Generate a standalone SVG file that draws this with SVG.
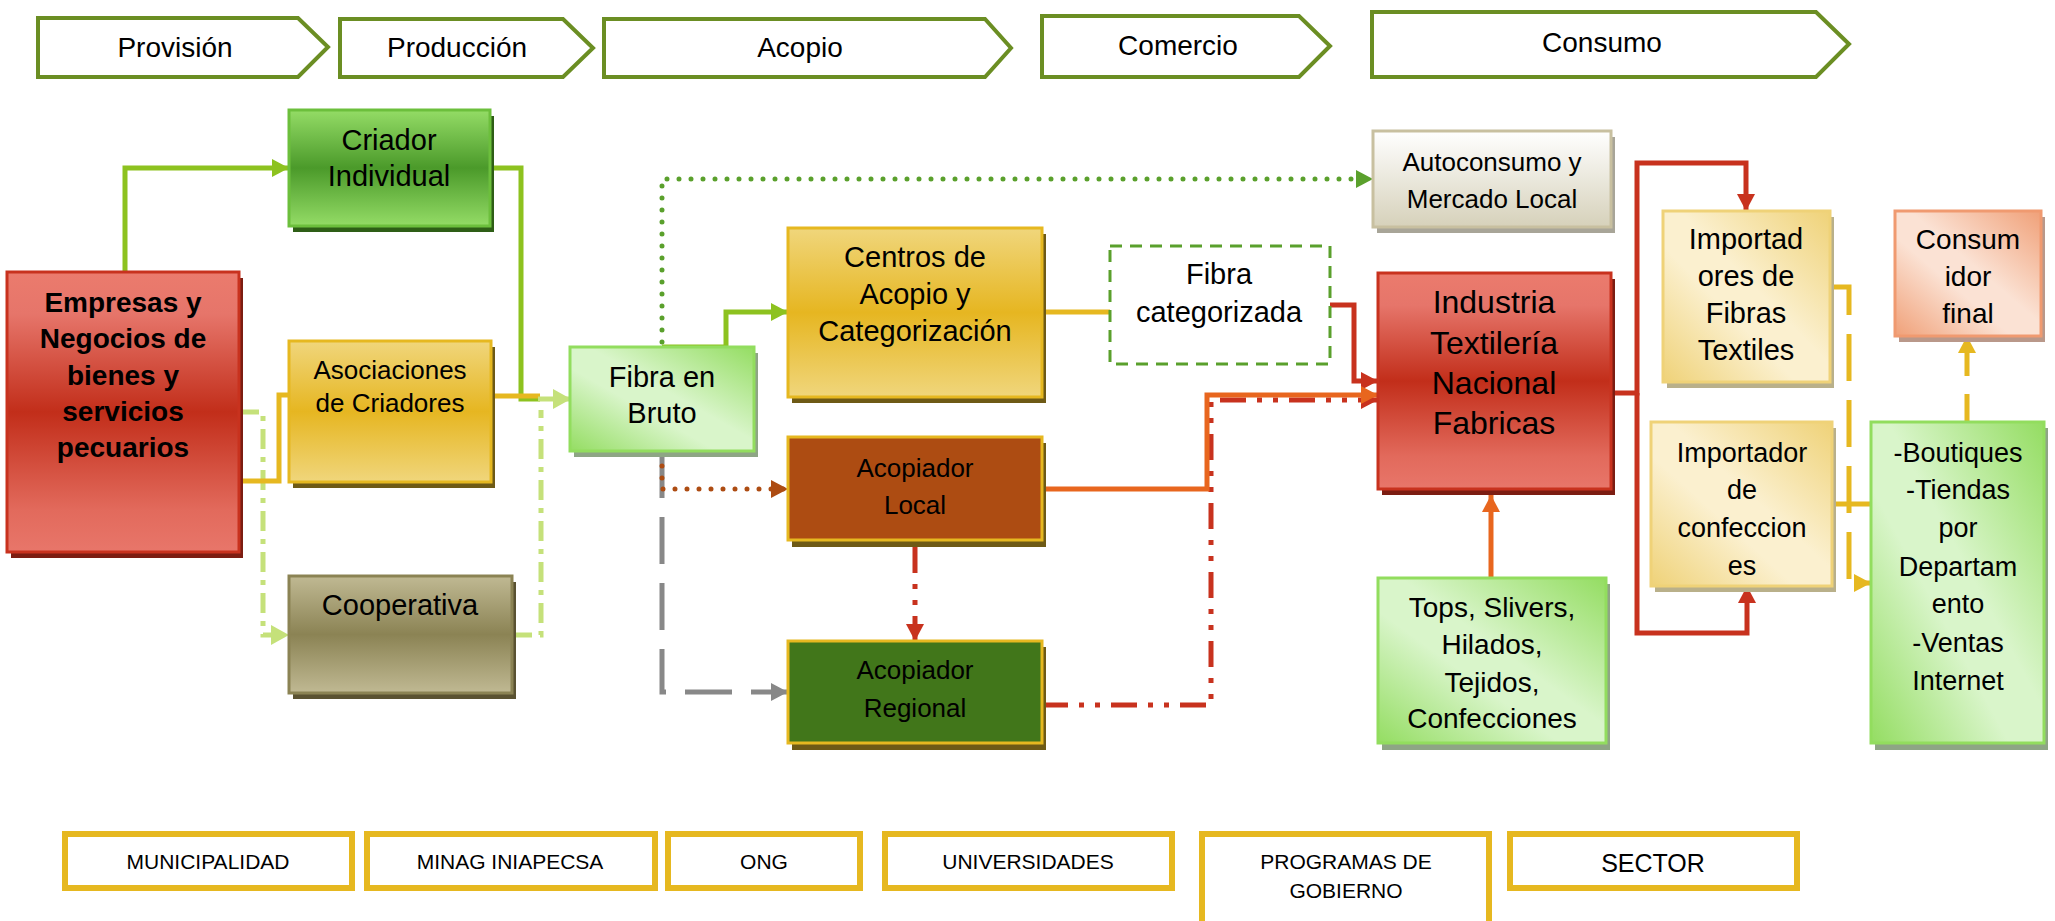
<svg xmlns="http://www.w3.org/2000/svg" width="2055" height="921" viewBox="0 0 2055 921">
<style>
text{font-family:"Liberation Sans",Arial,sans-serif;fill:#000;text-anchor:middle}
.chev{fill:#fff;stroke:#6b8e23;stroke-width:4;stroke-linejoin:miter}
.ct{font-size:28px}
.bx{fill:#fff;stroke:#e6b820;stroke-width:6}
.bt{font-size:21px}
.ln{fill:none;stroke-width:5}
.g{stroke:#8dc21f}
.lg{stroke:#c5e17a}
.dg{stroke:#5aa02c}
.y{stroke:#e6b820}
.r{stroke:#c8321e}
.o{stroke:#e8661e}
.br{stroke:#ad4c12}
.gr{stroke:#888888}
.dot{stroke-dasharray:0 12;stroke-linecap:round}
.dashdot{stroke-dasharray:20 8 5 8}
.dd2{stroke-dasharray:26 11 5 11 5 11}
.dash{stroke-dasharray:47 19}
.dashS{stroke-dasharray:28 18}
</style>
<defs>
<linearGradient id="gRed" x1="0" y1="0" x2="0" y2="1"><stop offset="0" stop-color="#eb7b6d"/><stop offset="0.15" stop-color="#e6756a"/><stop offset="0.5" stop-color="#c22e1a"/><stop offset="0.85" stop-color="#e26a5c"/><stop offset="1" stop-color="#e8766a"/></linearGradient>
<linearGradient id="gGreen" x1="0" y1="0" x2="0" y2="1"><stop offset="0" stop-color="#94dc66"/><stop offset="0.5" stop-color="#4b9a2a"/><stop offset="1" stop-color="#94dc66"/></linearGradient>
<linearGradient id="gYel" x1="0" y1="0" x2="0" y2="1"><stop offset="0" stop-color="#f0d67c"/><stop offset="0.5" stop-color="#e6b621"/><stop offset="1" stop-color="#f0d67c"/></linearGradient>
<linearGradient id="gOl" x1="0" y1="0" x2="0" y2="1"><stop offset="0" stop-color="#c0b993"/><stop offset="0.5" stop-color="#8b8354"/><stop offset="1" stop-color="#c0b993"/></linearGradient>
<linearGradient id="gAuto" x1="0" y1="0" x2="0" y2="1"><stop offset="0" stop-color="#ffffff"/><stop offset="1" stop-color="#d6d1ba"/></linearGradient>
<linearGradient id="gLG" x1="1" y1="0" x2="0" y2="1"><stop offset="0" stop-color="#94dd62"/><stop offset="0.45" stop-color="#d9f5ca"/><stop offset="0.6" stop-color="#d9f5ca"/><stop offset="1" stop-color="#94dd62"/></linearGradient>
<linearGradient id="gGold" x1="1" y1="0" x2="0" y2="1"><stop offset="0" stop-color="#efd278"/><stop offset="0.45" stop-color="#fbf0cf"/><stop offset="0.6" stop-color="#fbf0cf"/><stop offset="1" stop-color="#efd278"/></linearGradient>
<linearGradient id="gPeach" x1="1" y1="0" x2="0" y2="1"><stop offset="0" stop-color="#f0a078"/><stop offset="0.45" stop-color="#fbe2d4"/><stop offset="0.6" stop-color="#fbe2d4"/><stop offset="1" stop-color="#f0a078"/></linearGradient>
<marker id="mG" markerUnits="userSpaceOnUse" markerWidth="18" markerHeight="18" refX="17" refY="9" orient="auto"><path d="M0,0 L17,9 L0,18 Z" fill="#8dc21f"/></marker>
<marker id="mLG" markerUnits="userSpaceOnUse" markerWidth="19" markerHeight="20" refX="18" refY="10" orient="auto"><path d="M0,0 L18,10 L0,20 Z" fill="#c5e17a"/></marker>
<marker id="mDG" markerUnits="userSpaceOnUse" markerWidth="18" markerHeight="18" refX="17" refY="9" orient="auto"><path d="M0,0 L17,9 L0,18 Z" fill="#5aa02c"/></marker>
<marker id="mR" markerUnits="userSpaceOnUse" markerWidth="18" markerHeight="18" refX="17" refY="9" orient="auto"><path d="M0,0 L17,9 L0,18 Z" fill="#c8321e"/></marker>
<marker id="mO" markerUnits="userSpaceOnUse" markerWidth="18" markerHeight="18" refX="17" refY="9" orient="auto"><path d="M0,0 L17,9 L0,18 Z" fill="#e8661e"/></marker>
<marker id="mBR" markerUnits="userSpaceOnUse" markerWidth="18" markerHeight="18" refX="17" refY="9" orient="auto"><path d="M0,0 L17,9 L0,18 Z" fill="#ad4c12"/></marker>
<marker id="mGR" markerUnits="userSpaceOnUse" markerWidth="18" markerHeight="18" refX="17" refY="9" orient="auto"><path d="M0,0 L17,9 L0,18 Z" fill="#888888"/></marker>
<marker id="mY" markerUnits="userSpaceOnUse" markerWidth="18" markerHeight="18" refX="17" refY="9" orient="auto"><path d="M0,0 L17,9 L0,18 Z" fill="#e6b820"/></marker>
</defs>
<rect width="2055" height="921" fill="#fff"/>

<g id="stages">
<g id="st-provision"><path class="chev" d="M38,18 L298,18 L328,47 L298,77 L38,77 Z"/><text class="ct" x="175" y="57">Provisión</text></g>
<g id="st-produccion"><path class="chev" d="M340,19 L563,19 L593,48 L563,77 L340,77 Z"/><text class="ct" x="457" y="57">Producción</text></g>
<g id="st-acopio"><path class="chev" d="M604,19 L985,19 L1011,48 L985,77 L604,77 Z"/><text class="ct" x="800" y="57">Acopio</text></g>
<g id="st-comercio"><path class="chev" d="M1042,16 L1299,16 L1330,46 L1299,77 L1042,77 Z"/><text class="ct" x="1178" y="55">Comercio</text></g>
<g id="st-consumo"><path class="chev" d="M1372,12 L1816,12 L1849,44 L1816,77 L1372,77 Z"/><text class="ct" x="1602" y="52">Consumo</text></g>
</g>

<g id="connectors">
<path class="ln g" d="M125,272 V168 H289" marker-end="url(#mG)"/>
<path class="ln g" d="M471,168 H521 V399 H540"/>
<path class="ln y" d="M491,396 H540"/>
<path class="ln lg dashdot" d="M512,635 H541 V410"/>
<path class="ln lg" d="M538,399 H571" marker-end="url(#mLG)"/>
<path class="ln lg dashdot" d="M239,412 H263 V635 H289" marker-end="url(#mLG)"/>
<path class="ln y" d="M232,481 H279 V395 H289"/>
<path class="ln g" d="M662,347 H726 V312 H788" marker-end="url(#mG)"/>
<path class="ln dg dot" d="M662,342 V179 H1373" marker-end="url(#mDG)"/>
<path class="ln y" d="M1042,312 H1110"/>
<path class="ln r" d="M1330,305 H1354 V381 H1378" marker-end="url(#mR)"/>
<path class="ln r dd2" d="M1042,705 H1211 V400 H1378" marker-end="url(#mR)"/>
<path class="ln o" d="M1042,489 H1207 V395 H1378" marker-end="url(#mO)"/>
<path class="ln r dd2" d="M915,547 V641" marker-end="url(#mR)"/>
<path class="ln gr dash" d="M662,451 V692 H788" marker-end="url(#mGR)"/>
<path class="ln br dot" d="M662,454 V489 H788" marker-end="url(#mBR)"/>
<path class="ln o" d="M1491,578 V495" marker-end="url(#mO)"/>
<path class="ln r" d="M1611,393 H1637 V163 H1746 V211" marker-end="url(#mR)"/>
<path class="ln r" d="M1637,393 V633 H1747 V586" marker-end="url(#mR)"/>
<path class="ln y dash" d="M1830,287 H1849 V583 H1871" marker-end="url(#mY)"/>
<path class="ln y" d="M1832,504 H1871"/>
<path class="ln y dashS" d="M1967,422 V336" marker-end="url(#mY)"/>
</g>

<g id="n-criador"><rect x="293" y="116" width="201" height="116" fill="#2e5e16"/><rect x="289" y="110" width="201" height="116" fill="url(#gGreen)" stroke="#6cbf3c" stroke-width="3"/>
<text font-size="29" x="389" y="150">Criador</text><text font-size="29" x="389" y="186">Individual</text></g>

<g id="n-empresas"><rect x="11" y="278" width="232" height="280" fill="#7c1d12"/><rect x="7" y="272" width="232" height="280" fill="url(#gRed)" stroke="#c8321e" stroke-width="3"/>
<g font-weight="bold" font-size="28"><text x="123" y="312">Empresas y</text><text x="123" y="348">Negocios de</text><text x="123" y="385">bienes y</text><text x="123" y="421">servicios</text><text x="123" y="457">pecuarios</text></g></g>

<g id="n-asociaciones"><rect x="293" y="347" width="202" height="141" fill="#6e5a16"/><rect x="289" y="341" width="202" height="141" fill="url(#gYel)" stroke="#e6b820" stroke-width="3"/>
<text font-size="26" x="390" y="379">Asociaciones</text><text font-size="26" x="390" y="412">de Criadores</text></g>

<g id="n-cooperativa"><rect x="293" y="582" width="223" height="117" fill="#5a5232"/><rect x="289" y="576" width="223" height="117" fill="url(#gOl)" stroke="#8b8354" stroke-width="3"/>
<text font-size="29" x="400" y="615">Cooperativa</text></g>

<g id="n-fibra-bruto"><rect x="574" y="353" width="184" height="104" fill="#8ea585"/><rect x="570" y="347" width="184" height="104" fill="url(#gLG)" stroke="#92dd5e" stroke-width="3"/>
<text font-size="29" x="662" y="387">Fibra en</text><text font-size="29" x="662" y="423">Bruto</text></g>

<g id="n-centros"><rect x="792" y="234" width="254" height="169" fill="#6e5a16"/><rect x="788" y="228" width="254" height="169" fill="url(#gYel)" stroke="#e6b820" stroke-width="3"/>
<text font-size="29" x="915" y="267">Centros de</text><text font-size="29" x="915" y="304">Acopio y</text><text font-size="29" x="915" y="341">Categorización</text></g>

<g id="n-fibra-cat"><rect x="1110" y="246" width="220" height="118" fill="#fff" stroke="#5aa02c" stroke-width="3" stroke-dasharray="12 8"/>
<text font-size="29" x="1219" y="284">Fibra</text><text font-size="29" x="1219" y="322">categorizada</text></g>

<g id="n-acop-local"><rect x="792" y="443" width="254" height="104" fill="#6e5a16"/><rect x="788" y="437" width="254" height="103" fill="#ad4c12" stroke="#e6b820" stroke-width="3"/>
<text font-size="26" x="915" y="477">Acopiador</text><text font-size="26" x="915" y="514">Local</text></g>

<g id="n-acop-regional"><rect x="792" y="647" width="254" height="103" fill="#6e5a16"/><rect x="788" y="641" width="254" height="102" fill="#41761a" stroke="#e6b820" stroke-width="3"/>
<text font-size="26" x="915" y="679">Acopiador</text><text font-size="26" x="915" y="717">Regional</text></g>

<g id="n-autoconsumo"><rect x="1377" y="137" width="238" height="96" fill="#a8a598"/><rect x="1373" y="131" width="238" height="96" fill="url(#gAuto)" stroke="#c8c0a0" stroke-width="3"/>
<text font-size="26" x="1492" y="171">Autoconsumo y</text><text font-size="26" x="1492" y="208">Mercado Local</text></g>

<g id="n-industria"><rect x="1382" y="279" width="233" height="216" fill="#7c1d12"/><rect x="1378" y="273" width="233" height="216" fill="url(#gRed)" stroke="#c8321e" stroke-width="3"/>
<g font-size="32"><text x="1494" y="313">Industria</text><text x="1494" y="354">Textilería</text><text x="1494" y="394">Nacional</text><text x="1494" y="434">Fabricas</text></g></g>

<g id="n-tops"><rect x="1382" y="584" width="228" height="166" fill="#8ea585"/><rect x="1378" y="578" width="228" height="165" fill="url(#gLG)" stroke="#92dd5e" stroke-width="3"/>
<g font-size="28"><text x="1492" y="617">Tops, Slivers,</text><text x="1492" y="654">Hilados,</text><text x="1492" y="692">Tejidos,</text><text x="1492" y="728">Confecciones</text></g></g>

<g id="n-imp-fibras"><rect x="1667" y="217" width="167" height="171" fill="#b9b08a"/><rect x="1663" y="211" width="167" height="171" fill="url(#gGold)" stroke="#efd278" stroke-width="3"/>
<g font-size="29"><text x="1746" y="249">Importad</text><text x="1746" y="286">ores de</text><text x="1746" y="323">Fibras</text><text x="1746" y="360">Textiles</text></g></g>

<g id="n-imp-conf"><rect x="1655" y="428" width="181" height="164" fill="#b9b08a"/><rect x="1651" y="422" width="181" height="164" fill="url(#gGold)" stroke="#efd278" stroke-width="3"/>
<g font-size="27"><text x="1742" y="462">Importador</text><text x="1742" y="499">de</text><text x="1742" y="537">confeccion</text><text x="1742" y="575">es</text></g></g>

<g id="n-consumidor"><rect x="1899" y="217" width="146" height="125" fill="#b9988a"/><rect x="1895" y="211" width="146" height="125" fill="url(#gPeach)" stroke="#f09a70" stroke-width="3"/>
<g font-size="28"><text x="1968" y="249">Consum</text><text x="1968" y="286">idor</text><text x="1968" y="323">final</text></g></g>

<g id="n-boutiques"><rect x="1875" y="428" width="173" height="322" fill="#8ea585"/><rect x="1871" y="422" width="173" height="321" fill="url(#gLG)" stroke="#92dd5e" stroke-width="3"/>
<g font-size="27"><text x="1958" y="462">-Boutiques</text><text x="1958" y="499">-Tiendas</text><text x="1958" y="537">por</text><text x="1958" y="576">Departam</text><text x="1958" y="613">ento</text><text x="1958" y="652">-Ventas</text><text x="1958" y="690">Internet</text></g></g>

<g id="actors">
<g id="a-municipalidad"><rect class="bx" x="65" y="834" width="287" height="54"/><text class="bt" x="208" y="869">MUNICIPALIDAD</text></g>
<g id="a-minag"><rect class="bx" x="367" y="834" width="288" height="54"/><text class="bt" x="510" y="869">MINAG INIAPECSA</text></g>
<g id="a-ong"><rect class="bx" x="668" y="834" width="192" height="54"/><text class="bt" x="764" y="869">ONG</text></g>
<g id="a-universidades"><rect class="bx" x="885" y="834" width="287" height="54"/><text class="bt" x="1028" y="869">UNIVERSIDADES</text></g>
<g id="a-programas"><rect class="bx" x="1202" y="834" width="287" height="92"/><text class="bt" x="1346" y="869">PROGRAMAS DE</text><text class="bt" x="1346" y="898">GOBIERNO</text></g>
<g id="a-sector"><rect class="bx" x="1510" y="834" width="287" height="54"/><text font-size="25" x="1653" y="872">SECTOR</text></g>
</g>
</svg>
